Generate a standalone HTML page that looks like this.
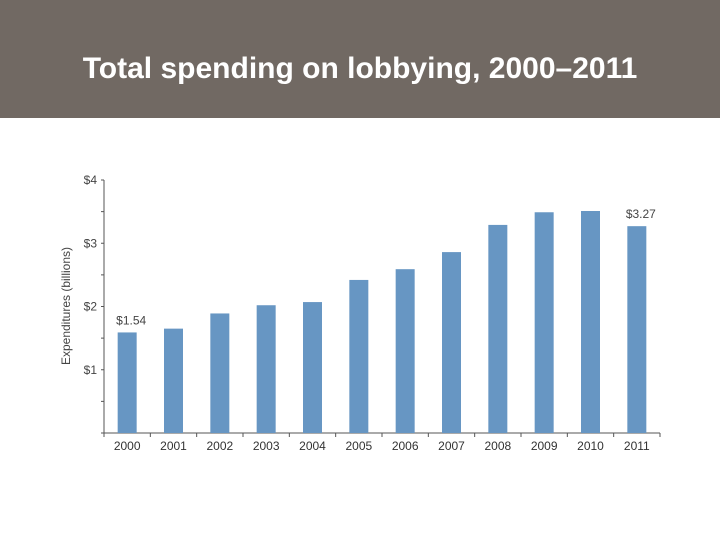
<!DOCTYPE html>
<html><head><meta charset="utf-8"><style>
body{margin:0;width:720px;height:540px;background:#fff;overflow:hidden;font-family:"Liberation Sans",sans-serif}
#hdr{position:absolute;left:0;top:0;width:720px;height:118px;background:#716963}
#title{position:absolute;left:0;top:52px;width:720px;text-align:center;color:#fff;font-size:30px;font-weight:bold;line-height:34px}
svg{position:absolute;left:0;top:0}
</style></head><body>
<div id="hdr"><div id="title">Total spending on lobbying, 2000–2011</div></div>
<svg id="c" width="720" height="540"></svg>
<script>
const categories=["2000","2001","2002","2003","2004","2005","2006","2007","2008","2009","2010","2011"];
const values=[1.59,1.65,1.89,2.02,2.07,2.42,2.59,2.86,3.29,3.49,3.51,3.27];
const yTicks=[1,2,3,4];
const yTickLabels=["$1","$2","$3","$4"];
const annotations=[{i:0,text:"$1.54"},{i:11,text:"$3.27"}];
const svg=document.getElementById('c');const NS="http://www.w3.org/2000/svg";
const x0=104,x1=660,y0=433,yTop=180,band=(x1-x0)/categories.length,bw=19;
const y=v=>y0-(y0-yTop)*v/4;
const xc=i=>x0+band*(i+0.5);
function mk(t,a,txt){const e=document.createElementNS(NS,t);for(const k in a)e.setAttribute(k,a[k]);if(txt!=null)e.textContent=txt;svg.appendChild(e);return e;}
let e;
e=mk('line',{x1:x0,y1:yTop,x2:x0,y2:y0,stroke:'#555','stroke-width':1});


e=mk('line',{x1:x0-3,y1:y0,x2:x1,y2:y0,stroke:'#555','stroke-width':1});


for(let v=0.5;v<=4;v+=0.5){e=mk('line',{x1:x0-3,y1:y(v),x2:x0,y2:y(v),stroke:'#555'});

}
yTicks.forEach((v,i)=>{e=mk('text',{x:x0-7,y:y(v)+4,'text-anchor':'end','font-size':12,fill:'#444'},yTickLabels[i]);

});
for(let i=0;i<=categories.length;i++){e=mk('line',{x1:x0+band*i,y1:y0,x2:x0+band*i,y2:y0+4,stroke:'#555'});

}
categories.forEach((c,i)=>{
e=mk('rect',{x:xc(i)-bw/2,y:y(values[i]),width:bw,height:y0-y(values[i]),fill:'#6796c3'});


e=mk('text',{x:xc(i),y:y0+17,'text-anchor':'middle','font-size':12,fill:'#333'},c);


});
annotations.forEach(a=>{e=mk('text',{x:xc(a.i)+4,y:y(values[a.i])-8,'text-anchor':'middle','font-size':12,fill:'#444'},a.text);

});
e=mk('text',{x:0,y:0,transform:'translate(70,306) rotate(-90)','text-anchor':'middle','font-size':12,fill:'#444'},'Expenditures (billions)');


</script>
</body></html>
